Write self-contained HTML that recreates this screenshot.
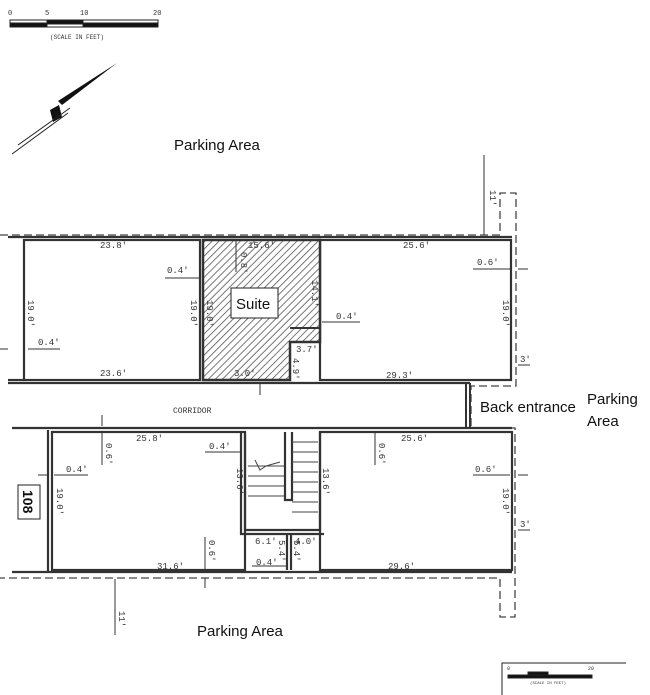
<!DOCTYPE html>
<html><head><meta charset="utf-8"><style>
body{margin:0;background:#fff;width:650px;height:695px;overflow:hidden}
svg{display:block}
.d{font-family:"Liberation Mono",monospace;font-size:9px;fill:#333}
.l{font-family:"Liberation Sans",sans-serif;font-size:15px;fill:#111}
</style></head><body>
<svg width="650" height="695" viewBox="0 0 650 695" xmlns="http://www.w3.org/2000/svg">
<defs>
<pattern id="h" width="5" height="5" patternUnits="userSpaceOnUse" patternTransform="rotate(45)">
<rect width="5" height="5" fill="#fff"/><line x1="0" y1="0" x2="0" y2="5" stroke="#555" stroke-width="1.6"/>
</pattern>
</defs>
<g stroke="#222" fill="none">
<rect x="10" y="20" width="148" height="7" fill="#fff"/>
<rect x="10" y="23" width="37" height="4" fill="#111"/>
<rect x="47" y="20" width="36" height="4" fill="#111"/>
<rect x="83" y="23" width="75" height="4" fill="#111"/>
</g>
<text class="d" x="8" y="15" style="font-size:7px">0</text>
<text class="d" x="45" y="15" style="font-size:7px">5</text>
<text class="d" x="80" y="15" style="font-size:7px">10</text>
<text class="d" x="153" y="15" style="font-size:7px">20</text>
<text class="d" x="50" y="39" style="font-size:6px">(SCALE IN FEET)</text>
<polygon points="117,63 62,105 58,101" fill="#111"/>
<polygon points="50,110 59,105 62,117 53,122" fill="#111"/>
<line x1="18" y1="145" x2="70" y2="108" stroke="#222"/>
<line x1="12" y1="154" x2="68" y2="113" stroke="#222"/>
<text class="l" x="174" y="150">Parking Area</text>
<text class="l" x="197" y="636">Parking Area</text>
<text class="l" x="480" y="412">Back entrance</text>
<text class="l" x="587" y="404">Parking</text>
<text class="l" x="587" y="426">Area</text>
<g stroke="#444" stroke-width="1.3" fill="none" stroke-dasharray="8,4">
<polyline points="0,235 500,235 500,193 516,193 516,386 471,386 471,428 515,428 515,617 500,617 500,578 0,578"/>
</g>
<g stroke="#333" fill="none" stroke-width="2.2">
<line x1="8" y1="237" x2="512" y2="237"/>
<line x1="8" y1="383" x2="470" y2="383"/>
<rect x="24" y="240" width="176" height="140"/>
<rect x="320" y="240" width="191" height="140"/>
<line x1="8" y1="380" x2="24" y2="380"/>
</g>
<path d="M203,240 H320 V342 H290 V380 H203 Z" fill="url(#h)" stroke="#333" stroke-width="2.5"/>
<path d="M320,240 V328 H290" stroke="#333" fill="none" stroke-width="2"/>
<rect x="231" y="288" width="47" height="30" fill="#fff" stroke="#222"/>
<text class="l" x="236" y="309" style="font-size:15px">Suite</text>
<g stroke="#333" stroke-width="2" fill="none">
<line x1="466" y1="383" x2="466" y2="428"/>
<line x1="470" y1="383" x2="470" y2="428"/>
</g>
<g stroke="#333" fill="none" stroke-width="2.2">
<line x1="12" y1="428" x2="512" y2="428"/>
<line x1="12" y1="572" x2="512" y2="572"/>
<rect x="52" y="432" width="193" height="138"/>
<rect x="320" y="432" width="192" height="138"/>
<line x1="48" y1="430" x2="48" y2="572"/>
<path d="M245,432 V530 H320 V432"/>
<path d="M241,432 V534 H324"/>
<line x1="287" y1="534" x2="287" y2="570"/>
<line x1="291" y1="534" x2="291" y2="570"/>
<path d="M285,432 V500 H292 V432"/>
</g>
<g stroke="#444" stroke-width="1">
<line x1="248" y1="466" x2="284" y2="466"/><line x1="248" y1="476" x2="284" y2="476"/>
<line x1="248" y1="486" x2="284" y2="486"/><line x1="248" y1="496" x2="284" y2="496"/>
<line x1="292" y1="442" x2="318" y2="442"/><line x1="292" y1="452" x2="318" y2="452"/>
<line x1="292" y1="462" x2="318" y2="462"/><line x1="292" y1="472" x2="318" y2="472"/>
<line x1="292" y1="482" x2="318" y2="482"/><line x1="292" y1="492" x2="318" y2="492"/>
<line x1="292" y1="502" x2="318" y2="502"/><line x1="292" y1="512" x2="318" y2="512"/>
<polyline points="255,460 260,470 266,466 280,462" fill="none"/>
</g>
<rect x="18" y="485" width="22" height="34" fill="#fff" stroke="#222"/>
<text class="l" x="0" y="0" transform="translate(23,490) rotate(90)" style="font-weight:bold;font-size:14px">108</text>
<g stroke="#333" stroke-width="1">
<line x1="484" y1="155" x2="484" y2="235"/>
<line x1="236" y1="240" x2="236" y2="272"/>
<line x1="165" y1="278" x2="200" y2="278"/>
<line x1="322" y1="322" x2="360" y2="322"/>
<line x1="473" y1="269" x2="510" y2="269"/>
<line x1="518" y1="269" x2="528" y2="269"/>
<line x1="0" y1="349" x2="8" y2="349"/><line x1="28" y1="349" x2="60" y2="349"/>
<line x1="518" y1="365" x2="530" y2="365"/>
<line x1="260" y1="383" x2="260" y2="395"/>
<line x1="102" y1="415" x2="102" y2="426"/><line x1="102" y1="432" x2="102" y2="465"/>
<line x1="375" y1="432" x2="375" y2="465"/>
<line x1="205" y1="452" x2="240" y2="452"/>
<line x1="38" y1="475" x2="48" y2="475"/><line x1="54" y1="475" x2="88" y2="475"/>
<line x1="473" y1="475" x2="510" y2="475"/><line x1="518" y1="475" x2="528" y2="475"/>
<line x1="518" y1="530" x2="530" y2="530"/>
<line x1="205" y1="537" x2="205" y2="570"/><line x1="205" y1="578" x2="205" y2="588"/>
<line x1="252" y1="566" x2="286" y2="566"/>
<line x1="115" y1="579" x2="115" y2="635"/>
</g>
<g class="d">
<text x="100" y="248">23.8'</text>
<text x="100" y="376">23.6'</text>
<text x="248" y="248">15.6'</text>
<text x="403" y="248">25.6'</text>
<text x="386" y="378">29.3'</text>
<text x="167" y="273">0.4'</text>
<text x="336" y="319">0.4'</text>
<text x="477" y="265">0.6'</text>
<text x="38" y="345">0.4'</text>
<text x="296" y="352">3.7'</text>
<text x="234" y="376">3.0'</text>
<text x="173" y="413" style="font-size:8px">CORRIDOR</text>
<text x="136" y="441">25.8'</text>
<text x="401" y="441">25.6'</text>
<text x="209" y="449">0.4'</text>
<text x="66" y="472">0.4'</text>
<text x="475" y="472">0.6'</text>
<text x="255" y="544">6.1'</text>
<text x="295" y="544">4.0'</text>
<text x="256" y="565">0.4'</text>
<text x="157" y="569">31.6'</text>
<text x="388" y="569">29.6'</text>
<text x="520" y="362">3'</text>
<text x="520" y="527">3'</text>
</g>
<g class="d">
<text transform="translate(490,190) rotate(90)">11'</text>
<text transform="translate(28,300) rotate(90)">19.0'</text>
<text transform="translate(191,300) rotate(90)">19.0'</text>
<text transform="translate(207,300) rotate(90)">19.0'</text>
<text transform="translate(503,300) rotate(90)">19.0'</text>
<text transform="translate(241,252) rotate(90)">0.8'</text>
<text transform="translate(312,280) rotate(90)">14.1'</text>
<text transform="translate(293,358) rotate(90)">4.9'</text>
<text transform="translate(106,443) rotate(90)">0.6'</text>
<text transform="translate(379,443) rotate(90)">0.6'</text>
<text transform="translate(57,488) rotate(90)">19.0'</text>
<text transform="translate(503,488) rotate(90)">19.0'</text>
<text transform="translate(237,468) rotate(90)">13.6'</text>
<text transform="translate(323,468) rotate(90)">13.6'</text>
<text transform="translate(209,540) rotate(90)">0.6'</text>
<text transform="translate(279,540) rotate(90)">5.4'</text>
<text transform="translate(294,540) rotate(90)">5.4'</text>
<text transform="translate(119,611) rotate(90)">11'</text>
</g>
<g stroke="#222" fill="none">
<polyline points="502,695 502,663 626,663"/>
<rect x="508" y="675" width="84" height="3" fill="#111"/>
<rect x="528" y="672" width="20" height="3" fill="#111"/>
</g>
<text class="d" x="507" y="670" style="font-size:5px">0</text>
<text class="d" x="588" y="670" style="font-size:5px">20</text>
<text class="d" x="530" y="684" style="font-size:4px">(SCALE IN FEET)</text>
</svg>
</body></html>
